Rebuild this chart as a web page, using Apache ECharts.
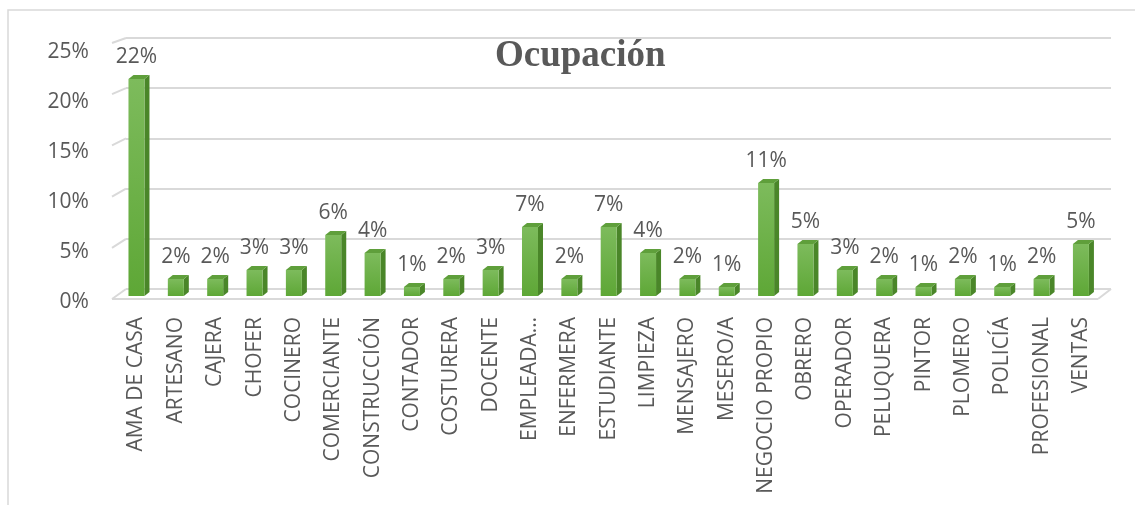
<!DOCTYPE html>
<html>
<head>
<meta charset="utf-8">
<script src="https://cdn.jsdelivr.net/npm/echarts@6/dist/echarts.min.js"></script>
<style>
  html, body { margin: 0; padding: 0; background: #fff; }
  #main { width: 1135px; height: 505px; }
</style>
</head>
<body>
<div id="main"></div>
<script>
const chartDom = document.getElementById('main');
const myChart = echarts.init(chartDom);

// occupations (category axis)
const categories = [
  'AMA DE CASA', 'ARTESANO', 'CAJERA', 'CHOFER', 'COCINERO', 'COMERCIANTE',
  'CONSTRUCCIÓN', 'CONTADOR', 'COSTURERA', 'DOCENTE', 'EMPLEADA…', 'ENFERMERA',
  'ESTUDIANTE', 'LIMPIEZA', 'MENSAJERO', 'MESERO/A', 'NEGOCIO PROPIO', 'OBRERO',
  'OPERADOR', 'PELUQUERA', 'PINTOR', 'PLOMERO', 'POLICÍA', 'PROFESIONAL', 'VENTAS'
];
// share of respondents, in percent
const shares = [
  21.7, 1.7, 1.7, 2.6, 2.6, 6.1,
  4.3, 0.9, 1.7, 2.6, 6.9, 1.7,
  6.9, 4.3, 1.7, 0.9, 11.3, 5.2,
  2.6, 1.7, 0.9, 1.7, 0.9, 1.7, 5.2
];
const yTicks = [0, 5, 10, 15, 20, 25];

const textColor = '#595959';
const gridColor = '#d9d9d9';
const font = 'Open Sans';

// excel-like 3d column
function renderBar(params, api) {
  const idx = api.value(0);
  const top = api.coord([idx, api.value(1)]);
  const base = api.coord([idx, 0]);
  const w = 16, dx = 5, dy = 4;
  const x0 = top[0] - w / 2, x1 = top[0] + w / 2;
  return {
    type: 'group',
    children: [
      {
        type: 'polygon',
        shape: { points: [[x1, top[1]], [x1 + dx, top[1] - dy], [x1 + dx, base[1] - dy], [x1, base[1]]] },
        style: { fill: '#4a8629' }
      },
      {
        type: 'polygon',
        shape: { points: [[x0, top[1]], [x0 + dx, top[1] - dy], [x1 + dx, top[1] - dy], [x1, top[1]]] },
        style: { fill: '#5f9f3b' }
      },
      {
        type: 'rect',
        shape: { x: x0, y: top[1], width: w, height: base[1] - top[1] },
        style: {
          fill: new echarts.graphic.LinearGradient(0, 0, 0, 1, [
            { offset: 0, color: '#7dbb5c' },
            { offset: 1, color: '#5ea736' }
          ])
        }
      }
    ]
  };
}

// back wall gridline edges
const wallLines = yTicks.map(function (t, k) {
  const yb = 289 - 50.2 * k;
  return {
    type: 'line',
    shape: { x1: 112, y1: yb + 10 - k, x2: 126, y2: yb },
    style: { stroke: gridColor, lineWidth: 2 }
  };
});

const myChartOption = {
  backgroundColor: '#fff',
  title: {
    text: 'Ocupación',
    left: 490,
    top: 33,
    textStyle: {
      fontFamily: 'Liberation Serif',
      fontWeight: 'bold',
      fontSize: 37,
      color: textColor
    }
  },
  graphic: [
    {
      type: 'rect',
      shape: { x: 8, y: 10, width: 1200, height: 600 },
      style: { fill: 'none', stroke: gridColor, lineWidth: 1.5 },
      z: -1
    },
    {
      type: 'line',
      shape: { x1: 112, y1: 299, x2: 1098, y2: 299 },
      style: { stroke: gridColor, lineWidth: 2 }
    },
    {
      type: 'line',
      shape: { x1: 1098, y1: 299, x2: 1111, y2: 289 },
      style: { stroke: gridColor, lineWidth: 2 }
    }
  ].concat(wallLines),
  grid: [
    { left: 116.8, right: 34.4, top: 46, bottom: 209 },
    { left: 126, right: 24, top: 38, bottom: 216 }
  ],
  xAxis: [
    {
      type: 'category',
      gridIndex: 0,
      data: categories,
      axisLine: { show: false },
      axisTick: { show: false },
      axisLabel: {
        rotate: 90,
        interval: 0,
        margin: 21,
        color: textColor,
        fontFamily: font,
        fontSize: 21
      }
    },
    { type: 'value', gridIndex: 1, show: false }
  ],
  yAxis: [
    {
      type: 'value',
      gridIndex: 0,
      min: 0,
      max: 25,
      interval: 5,
      axisLine: { show: false },
      axisTick: { show: false },
      splitLine: { show: false },
      axisLabel: {
        formatter: '{value}%',
        margin: 28,
        verticalAlign: 'top',
        lineHeight: 13,
        color: textColor,
        fontFamily: font,
        fontSize: 21
      }
    },
    {
      type: 'value',
      gridIndex: 1,
      min: 0,
      max: 25,
      interval: 5,
      axisLine: { show: false },
      axisTick: { show: false },
      axisLabel: { show: false },
      splitLine: { lineStyle: { color: gridColor, width: 2 } }
    }
  ],
  series: [
    {
      type: 'custom',
      xAxisIndex: 0,
      yAxisIndex: 0,
      renderItem: renderBar,
      data: shares.map(function (v, i) { return [i, v]; }),
      encode: { x: 0, y: 1 }
    },
    {
      // value labels above the columns
      type: 'scatter',
      xAxisIndex: 0,
      yAxisIndex: 0,
      symbolSize: 0,
      silent: true,
      itemStyle: { opacity: 1 },
      data: shares,
      label: {
        show: true,
        position: 'top',
        distance: 11,
        formatter: function (p) { return Math.round(p.value) + '%'; },
        color: textColor,
        fontFamily: font,
        fontSize: 21
      }
    }
  ]
};

myChartOption && myChart.setOption(myChartOption);
</script>
</body>
</html>
